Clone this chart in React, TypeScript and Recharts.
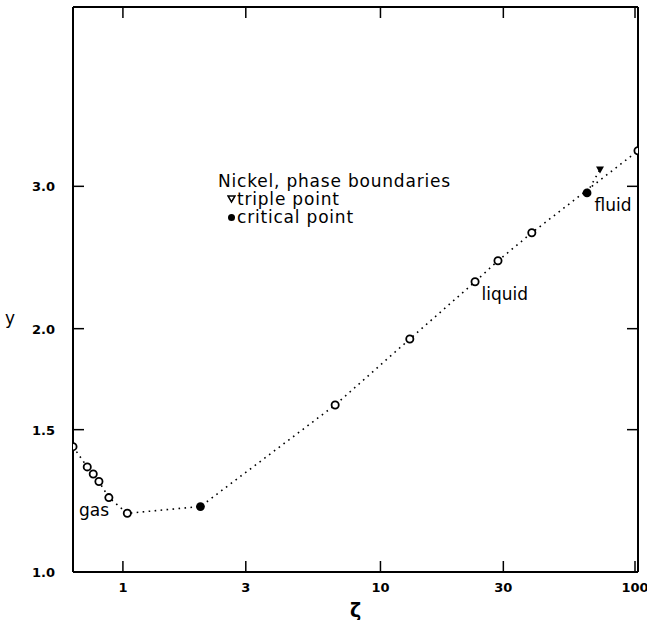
import { ScatterChart, Scatter, XAxis, YAxis, Legend, ReferenceDot } from 'recharts';

// axis ticks
const zetaTicks = [1, 3, 10, 30, 100];
const yTicks = [1.0, 1.5, 2.0, 3.0];

// gas branch (open circles)
const gasZeta = [0.64, 0.727, 0.767, 0.807, 0.882, 1.04];
const gasY = [1.429, 1.349, 1.322, 1.294, 1.236, 1.182];

// liquid branch (open circles)
const liquidZeta = [6.67, 13.0, 23.3, 28.6, 38.7, 100];
const liquidY = [1.609, 1.942, 2.286, 2.427, 2.628, 3.32];

// critical points (filled) and triple point
const criticalZeta = [2.0, 63.4];
const criticalY = [1.205, 2.944];
const tripleZeta = [71.2];
const tripleY = [3.148];

const FONT = '"DejaVu Sans", sans-serif';
const TICK_LEN = 11;

const pts = (xs: number[], ys: number[]) => xs.map((x, i) => ({ zeta: x, y: ys[i] }));

const gasPoints = pts(gasZeta, gasY);
const liquidPoints = pts(liquidZeta, liquidY);
const criticalPoints = pts(criticalZeta, criticalY);
const triplePoints = pts(tripleZeta, tripleY);

// dotted boundary: gas -> critical point -> liquid
const boundary = [...gasPoints, criticalPoints[0], ...liquidPoints];
// short fluid branch from the upper critical point to the triple point
const fluidBranch = [criticalPoints[1], triplePoints[0]];

const dotted = { stroke: '#000', strokeWidth: 1.6, strokeDasharray: '1.6 4.4' };

const OpenCircle = (p: any) => (
  <circle cx={p.cx} cy={p.cy} r={3.6} fill="#fff" stroke="#000" strokeWidth={1.8} />
);
const FilledCircle = (p: any) => <circle cx={p.cx} cy={p.cy} r={4.4} fill="#000" />;
const DownTriangle = (p: any) => (
  <path d={`M${p.cx - 4},${p.cy - 3}L${p.cx + 4},${p.cy - 3}L${p.cx},${p.cy + 4}Z`} fill="#000" />
);
const NoMark = () => <g />;

const labelStyle = { fill: '#000', fontSize: 13, fontWeight: 700, fontFamily: FONT };

// inward ticks: the tick line is drawn from the axis line into the plot
const BottomTick = ({ x, y, payload }: any) => (
  <g>
    <line x1={x} x2={x} y1={y} y2={y - TICK_LEN} stroke="#000" strokeWidth={1.5} />
    <text x={x} y={y + 20} textAnchor="middle" {...labelStyle}>
      {payload.value}
    </text>
  </g>
);
const TopTick = ({ x, y }: any) => (
  <line x1={x} x2={x} y1={y} y2={y + TICK_LEN} stroke="#000" strokeWidth={1.5} />
);
const LeftTick = ({ x, y, payload }: any) => (
  <g>
    <line x1={x} x2={x + TICK_LEN} y1={y} y2={y} stroke="#000" strokeWidth={1.5} />
    <text x={x - 18} y={y + 5} textAnchor="end" {...labelStyle}>
      {Number(payload.value).toFixed(1)}
    </text>
  </g>
);
const RightTick = ({ x, y }: any) => (
  <line x1={x} x2={x - TICK_LEN} y1={y} y2={y} stroke="#000" strokeWidth={1.5} />
);

const legendOrder = ['triple point', 'critical point'];

const LegendBox = ({ payload }: any) => {
  const items = legendOrder
    .map((name) => (payload || []).find((e: any) => e.value === name))
    .filter(Boolean);
  return (
    <div style={{ fontFamily: FONT, fontSize: 17, lineHeight: '18px', letterSpacing: 0.8, color: '#000' }}>
      <div>Nickel, phase boundaries</div>
      {items.map((e: any) => (
        <div key={e.value} style={{ paddingLeft: 9, display: 'flex', alignItems: 'center' }}>
          <svg width={9} height={10} style={{ marginRight: 1 }}>
            {e.value === 'triple point' ? (
              <path d="M1,2L8,2L4.5,8Z" fill="#fff" stroke="#000" strokeWidth={1.5} />
            ) : (
              <circle cx={4.5} cy={5.5} r={3.5} fill="#000" />
            )}
          </svg>
          <span>{e.value}</span>
        </div>
      ))}
    </div>
  );
};

const axisLine = { stroke: '#000', strokeWidth: 2 };
const annot = { fill: '#000', fontSize: 17, fontFamily: FONT };

export default function App() {
  return (
    <div style={{ position: 'absolute', left: 0, top: 0, background: '#fff' }}>
      <ScatterChart width={647} height={620} margin={{ top: 0, right: 0, bottom: 0, left: 0 }}>
        <XAxis
          dataKey="zeta"
          type="number"
          scale="log"
          domain={[0.64, 100]}
          allowDataOverflow
          ticks={zetaTicks}
          height={48}
          tickSize={0}
          tickMargin={0}
          axisLine={axisLine}
          tickLine={false}
          tick={BottomTick}
          label={{ value: 'ζ', position: 'insideBottom', offset: 3, fill: '#000', fontSize: 19, fontWeight: 700, fontFamily: FONT }}
        />
        <XAxis
          xAxisId="top"
          orientation="top"
          dataKey="zeta"
          type="number"
          scale="log"
          domain={[0.64, 100]}
          allowDataOverflow
          ticks={zetaTicks}
          height={7}
          tickSize={0}
          tickMargin={0}
          axisLine={axisLine}
          tickLine={false}
          tick={TopTick}
        />
        <YAxis
          dataKey="y"
          type="number"
          scale="log"
          domain={[1, 5]}
          allowDataOverflow
          ticks={yTicks}
          width={73}
          tickSize={0}
          tickMargin={0}
          axisLine={axisLine}
          tickLine={false}
          tick={LeftTick}
          label={{ value: 'y', position: 'insideLeft', offset: 5, dy: 28, fill: '#000', fontSize: 17, fontFamily: FONT }}
        />
        <YAxis
          yAxisId="right"
          orientation="right"
          dataKey="y"
          type="number"
          scale="log"
          domain={[1, 5]}
          allowDataOverflow
          ticks={yTicks}
          width={9}
          tickSize={0}
          tickMargin={0}
          axisLine={axisLine}
          tickLine={false}
          tick={RightTick}
        />
        <Scatter
          name="boundary"
          data={boundary}
          line={dotted}
          lineType="joint"
          shape={NoMark}
          legendType="none"
          isAnimationActive={false}
        />
        <Scatter
          name="fluid"
          data={fluidBranch}
          line={dotted}
          lineType="joint"
          shape={NoMark}
          legendType="none"
          isAnimationActive={false}
        />
        <Scatter name="gas" data={gasPoints} shape={OpenCircle} legendType="none" isAnimationActive={false} />
        <Scatter name="liquid" data={liquidPoints} shape={OpenCircle} legendType="none" isAnimationActive={false} />
        <Scatter name="triple point" data={triplePoints} shape={DownTriangle} isAnimationActive={false} />
        <Scatter name="critical point" data={criticalPoints} shape={FilledCircle} isAnimationActive={false} />
        <ReferenceDot x={0.772} y={1.193} r={0} label={{ value: 'gas', position: 'center', ...annot }} />
        <ReferenceDot x={30.4} y={2.208} r={0} label={{ value: 'liquid', position: 'center', ...annot }} />
        <ReferenceDot x={80.0} y={2.846} r={0} label={{ value: 'fluid', position: 'center', ...annot }} />
        <Legend
          layout="vertical"
          align="center"
          verticalAlign="middle"
          content={LegendBox}
          wrapperStyle={{ left: 218, top: 172, width: 'auto' }}
        />
      </ScatterChart>
    </div>
  );
}
